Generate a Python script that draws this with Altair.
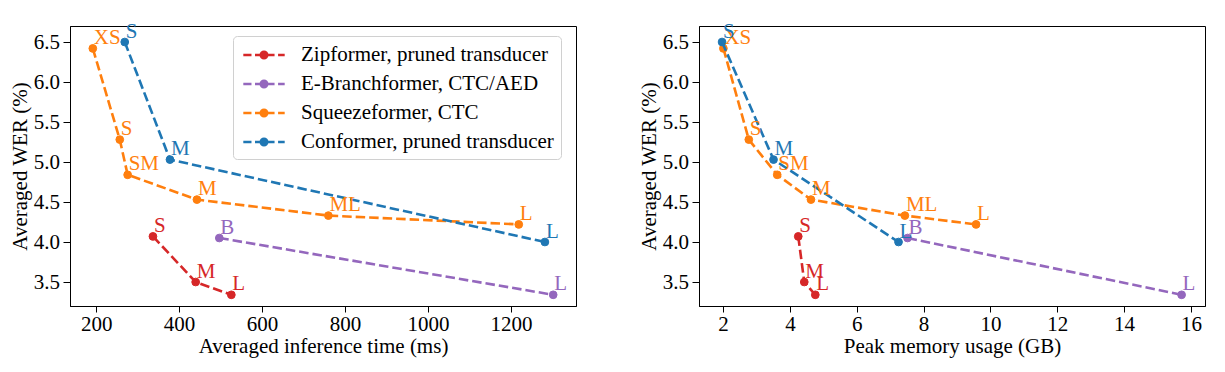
import altair as alt
import pandas as pd

# ---------------- data ----------------
series_names = ["Zipformer, pruned transducer", "E-Branchformer, CTC/AED",
                "Squeezeformer, CTC", "Conformer, pruned transducer"]
series_colors = ["#d62728", "#9467bd", "#ff7f0e", "#1f77b4"]

zip_labels = ["S", "M", "L"]
zip_time = [337, 440, 526]
zip_mem = [4.25, 4.43, 4.76]
zip_wer = [4.07, 3.50, 3.34]

ebf_labels = ["B", "L"]
ebf_time = [497, 1302]
ebf_mem = [7.52, 15.72]
ebf_wer = [4.05, 3.34]

sqz_labels = ["XS", "S", "SM", "M", "ML", "L"]
sqz_time = [192, 257, 276, 443, 760, 1219]
sqz_mem = [2.01, 2.77, 3.62, 4.63, 7.44, 9.57]
sqz_wer = [6.42, 5.28, 4.84, 4.53, 4.33, 4.22]

con_labels = ["S", "M", "L"]
con_time = [269, 378, 1282]
con_mem = [1.97, 3.51, 7.25]
con_wer = [6.50, 5.03, 4.00]

x_time_ticks = [200, 400, 600, 800, 1000, 1200]
x_mem_ticks = [2, 4, 6, 8, 10, 12, 14, 16]
y_ticks = [3.5, 4.0, 4.5, 5.0, 5.5, 6.0, 6.5]

rows = []
for name, labs, t, m, w in [
    (series_names[0], zip_labels, zip_time, zip_mem, zip_wer),
    (series_names[1], ebf_labels, ebf_time, ebf_mem, ebf_wer),
    (series_names[2], sqz_labels, sqz_time, sqz_mem, sqz_wer),
    (series_names[3], con_labels, con_time, con_mem, con_wer),
]:
    for i in range(len(labs)):
        rows.append({"series": name, "label": labs[i], "time": t[i],
                     "mem": m[i], "wer": w[i], "idx": i})
df = pd.DataFrame(rows)

FONT = "'Liberation Serif', 'Times New Roman', 'DejaVu Serif', serif"
FS = 21
# legend glyph: dashed line with a dot, spanning [-2, 2] units horizontally
SYMBOL_PATH = ("M-2,0L-1.21,0M-0.87,0L-0.1,0M0.24,0L1.02,0M1.36,0L2,0"
               "M-0.31,0A0.31,0.31,0,1,1,0.31,0A0.31,0.31,0,1,1,-0.31,0Z")

fill_scale = alt.Scale(domain=series_names, range=series_colors)
stroke_scale = alt.Scale(domain=series_names, range=series_colors)

legend = alt.Legend(
    title=None, orient="none", legendX=163, legendY=10,
    symbolType=SYMBOL_PATH, symbolSize=428, symbolStrokeWidth=2.6,
    symbolOpacity=1, symbolOffset=12,
    labelFont=FONT, labelFontSize=FS, labelColor="black", labelLimit=0,
    labelOffset=25, padding=7, rowPadding=7,
    strokeColor="#d0d0d0", fillColor="rgba(255,255,255,0.85)", cornerRadius=4,
)


def panel(xfield, xtitle, xdomain, xticks, show_legend):
    base = alt.Chart(df)
    x = alt.X(f"{xfield}:Q", title=xtitle,
              scale=alt.Scale(domain=xdomain, nice=False, zero=False),
              axis=alt.Axis(values=xticks, format="d",
                            tickSize=6, labelPadding=1, titlePadding=1))
    y = alt.Y("wer:Q", title="Averaged WER (%)",
              scale=alt.Scale(domain=[3.2, 6.7], nice=False, zero=False),
              axis=alt.Axis(values=y_ticks, format=".1f", tickSize=7,
                            labelPadding=3.5, titlePadding=3))
    lines = base.mark_line(strokeDash=[9.5, 4], strokeWidth=2.6).encode(
        x=x, y=y,
        stroke=alt.Stroke("series:N", scale=stroke_scale, legend=None),
        detail="series:N",
        order="idx:Q",
    )
    pts = base.mark_point(filled=True, size=60, strokeWidth=1, opacity=1).encode(
        x=x, y=y,
        fill=alt.Fill("series:N", scale=fill_scale,
                      legend=legend if show_legend else None),
        stroke=alt.Stroke("series:N", scale=stroke_scale,
                          legend=legend if show_legend else None),
    )
    texts = base.mark_text(font=FONT, fontSize=FS, align="left",
                           baseline="alphabetic", dx=1, dy=-4.5).encode(
        x=x, y=y, text="label:N",
        fill=alt.Fill("series:N", scale=fill_scale, legend=None),
    )
    return alt.layer(pts, lines, texts).properties(width=506, height=280)


left = panel("time", "Averaged inference time (ms)", [137, 1357], x_time_ticks, True)
right = panel("mem", "Peak memory usage (GB)", [1.28, 16.42], x_mem_ticks, True)

chart = alt.hconcat(left, right, spacing=60).properties(
    padding={"left": 0, "top": 12, "right": 5, "bottom": 5}
).configure(font=FONT).configure_axis(
    labelFont=FONT, titleFont=FONT, labelFontSize=FS, titleFontSize=FS,
    titleFontWeight="normal", labelColor="black", titleColor="black",
    tickColor="black", domainColor="black", domainWidth=1, tickWidth=1,
    grid=False,
).configure_view(stroke="black", strokeWidth=1)

chart.save("out.html", embed_options={"renderer": "svg", "actions": False})
